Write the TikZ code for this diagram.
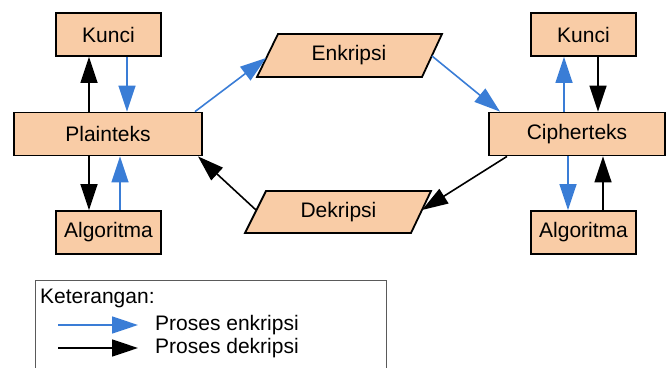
\documentclass[tikz,border=0pt]{standalone}
\usepackage{fontspec}
\setmainfont{Liberation Sans}
\usetikzlibrary{arrows.meta,calc}
\definecolor{peach}{RGB}{249,204,166}
\definecolor{arrblue}{RGB}{58,125,214}
\definecolor{legendgray}{RGB}{90,90,90}
\begin{document}
\begin{tikzpicture}[x=1pt,y=-1pt,
  every node/.style={font=\fontsize{21}{25}\selectfont},
  box/.style={draw, line width=1.8pt, fill=peach, inner sep=0pt, minimum height=43pt},
  smallbox/.style={box, minimum width=105pt},
  para/.style={draw, line width=1.8pt, fill=peach, line join=miter},
  bluearr/.style={draw=arrblue, line width=1.6pt, -{Triangle[length=26pt,width=17pt]}, arrblue},
  blackarr/.style={draw=black, line width=1.6pt, -{Triangle[length=26pt,width=17pt]}, black}]
\useasboundingbox (0,0) rectangle (667,367);

% left side
\node[smallbox] (lkunci) at (108.5,34.5) {Kunci};
\node[box, minimum width=188pt] (plain) at (108,134) {Plainteks};
\node[smallbox] (lalg) at (108.5,232.5) {Algoritma};

% right side
\node[smallbox] (rkunci) at (583.5,34.5) {Kunci};
\node[box, minimum width=176pt] (cipher) at (577,134) {Cipherteks};
\node[smallbox] (ralg) at (583.5,232.5) {Algoritma};

% parallelograms
\draw[para] (278,34) -- (442,34) -- (422,77) -- (257,77) -- cycle;
\node (enk) at (349,55.5) {Enkripsi};
\draw[para] (266,191) -- (431,191) -- (411,233) -- (245,233) -- cycle;
\node (dek) at (338.5,212) {Dekripsi};

\coordinate (enkL) at (266,58);
\coordinate (enkR) at (432,56);
\coordinate (dekR) at (422,210);
\coordinate (dekL) at (256,210);

% left vertical arrows
\draw[blackarr] (plain.north -| 89,0) -- (lkunci.south -| 89,0);
\draw[bluearr] (lkunci.south -| 127,0) -- (plain.north -| 127,0);
\draw[blackarr] (plain.south -| 89,0) -- (lalg.north -| 89,0);
\draw[bluearr] (lalg.north -| 120,0) -- (plain.south -| 120,0);

% right vertical arrows
\draw[bluearr] (cipher.north -| 564,0) -- (rkunci.south -| 564,0);
\draw[blackarr] (rkunci.south -| 598,0) -- (cipher.north -| 598,0);
\draw[bluearr] (cipher.south -| 568,0) -- (ralg.north -| 568,0);
\draw[blackarr] (ralg.north -| 603,0) -- (cipher.south -| 603,0);

% diagonal arrows
\draw[bluearr] (plain.north -| 195,0) -- (enkL);
\draw[bluearr] (enkR) -- (cipher.north -| 500,0);
\draw[blackarr] (cipher.south -| 507,0) -- (dekR);
\draw[blackarr] (dekL) -- (plain.south -| 198,0);

% legend
\draw[legendgray, line width=1pt] (35,280) rectangle (386,380);
\node[anchor=west, inner sep=0pt] (ket) at (40,298) {Keterangan:};
\coordinate (lb1) at (58,325);
\coordinate (lb2) at (138,325);
\coordinate (lk1) at (58,348);
\coordinate (lk2) at (138,348);
\draw[bluearr] (lb1) -- (lb2);
\draw[blackarr] (lk1) -- (lk2);
\node[anchor=west, inner sep=0pt] (penk) at (155,325) {Proses enkripsi};
\node[anchor=west, inner sep=0pt] (pdek) at (155,348) {Proses dekripsi};
\end{tikzpicture}
\end{document}
